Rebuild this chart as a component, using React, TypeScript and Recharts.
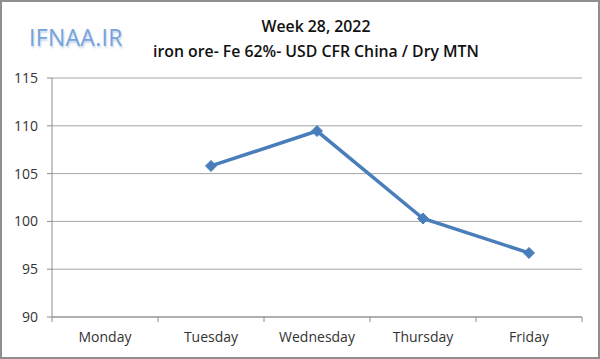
import React from "react";
import { LineChart, Line, XAxis, YAxis, CartesianGrid } from "recharts";

const days = ["Monday", "Tuesday", "Wednesday", "Thursday", "Friday"];
const prices: (number | null)[] = [null, 105.8, 109.45, 100.3, 96.7];
const yTicks = [90, 95, 100, 105, 110, 115];

const data = days.map((d, i) => ({ day: d, price: prices[i] }));

const BAND = 106;
const FONT = "'Open Sans', 'Liberation Sans', sans-serif";

const XTick = (props: any) => {
  const { x, y, payload, index } = props;
  const isLast = index === days.length - 1;
  return (
    <g>
      <line x1={x - BAND / 2} y1={y - 8} x2={x - BAND / 2} y2={y - 3} stroke="#8c8c8c" />
      {isLast && <line x1={x + BAND / 2} y1={y - 8} x2={x + BAND / 2} y2={y - 3} stroke="#8c8c8c" />}
      <text x={x} y={y + 17} textAnchor="middle" fontSize={14} fill="#333" fontFamily={FONT}>
        {payload.value}
      </text>
    </g>
  );
};

const Diamond = (props: any) => {
  const { cx, cy, payload } = props;
  if (payload.price == null || cx == null || cy == null) return <g />;
  const r = 5.5;
  return (
    <path
      d={`M${cx},${cy - r} L${cx + r},${cy} L${cx},${cy + r} L${cx - r},${cy} Z`}
      fill="#4A7EBB"
      stroke="#4A7EBB"
    />
  );
};

export default function App() {
  return (
    <div
      style={{
        position: "absolute",
        left: 0,
        top: 0,
        width: 600,
        height: 359,
        background: "#fff",
        boxSizing: "border-box",
        border: "2px solid #8f8f8f",
      }}
    >
      <div
        style={{
          position: "absolute",
          left: 27,
          top: 19,
          fontFamily: FONT,
          fontSize: 23,
          color: "#74a3dc",
          textShadow: "1px 2px 2px rgba(90,130,190,0.35)",
          letterSpacing: 0.3,
        }}
      >
        IFNAA.IR
      </div>
      <div
        style={{
          position: "absolute",
          left: 0,
          width: 628,
          top: 12,
          textAlign: "center",
          fontFamily: FONT,
          fontWeight: 600,
          fontSize: 15.8,
          color: "#111",
          lineHeight: "25px",
        }}
      >
        <div>Week 28, 2022</div>
        <div>iron ore- Fe 62%- USD CFR China / Dry MTN</div>
      </div>
      <div style={{ position: "absolute", left: -2, top: -2 }}>
        <LineChart
          width={600}
          height={359}
          data={data}
          margin={{ top: 78, right: 18, bottom: 0, left: 0 }}
        >
          <CartesianGrid vertical={false} stroke="#a6a6a6" strokeWidth={1} />
          <XAxis
            dataKey="day"
            height={42}
            padding={{ left: BAND / 2, right: BAND / 2 }}
            stroke="#8c8c8c"
            tickLine={false}
            tick={<XTick />}
            interval={0}
          />
          <YAxis
            width={52}
            domain={[90, 115]}
            ticks={yTicks}
            interval={0}
            stroke="#8c8c8c"
            tickSize={5}
            tickMargin={9}
            tick={{ fontSize: 14, fill: "#333", fontFamily: FONT }}
          />
          <Line
            dataKey="price"
            stroke="#4A7EBB"
            strokeWidth={3.5}
            dot={<Diamond />}
            activeDot={false}
            isAnimationActive={false}
            connectNulls={false}
          />
        </LineChart>
      </div>
    </div>
  );
}
